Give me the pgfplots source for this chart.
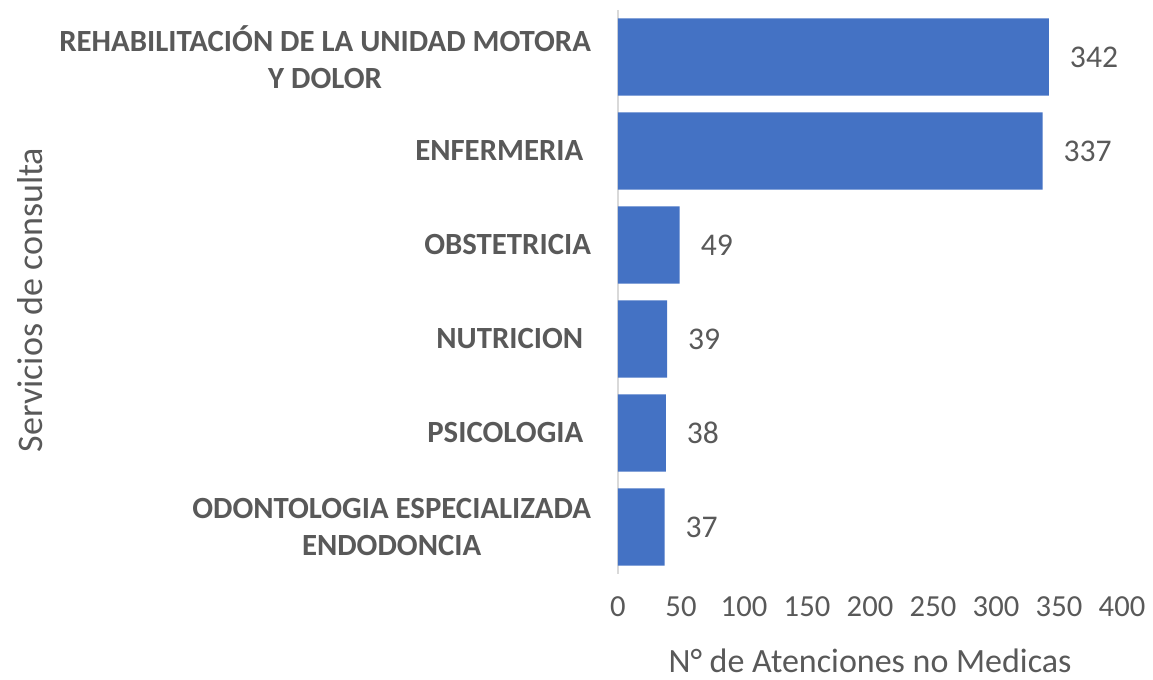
\documentclass[border=0pt]{standalone}
\usepackage{pgfplots}
\pgfplotsset{compat=1.18}
\usepackage{fontspec}
\setmainfont{Carlito}
\usetikzlibrary{calc}
\definecolor{barblue}{HTML}{4472C4}
\definecolor{txtgray}{HTML}{595959}
\definecolor{axgray}{HTML}{D9D9D9}
\begin{document}
\begin{tikzpicture}
\begin{axis}[
  name=ax,
  scale only axis,
  width=252pt, height=282pt,
  xbar, bar width=0.82,
  xmin=0, xmax=400,
  ymin=-0.5, ymax=5.5,
  xtick={0,50,...,400},
  ytick={0,1,2,3,4,5},
  yticklabels={{ODONTOLOGIA ESPECIALIZADA\\ENDODONCIA},
               {PSICOLOGIA\hspace*{0.25em}},
               {NUTRICION\hspace*{0.25em}},
               {OBSTETRICIA},
               {ENFERMERIA\hspace*{0.25em}},
               {REHABILITACIÓN DE LA UNIDAD MOTORA\\Y DOLOR}},
  axis lines=left,
  x axis line style={draw=none},
  y axis line style={draw=axgray, line width=1.2pt, -},
  major tick length=0pt,
  /pgf/number format/assume math mode=true,
  xticklabel style={font=\fontsize{15.3}{19}\selectfont, text=txtgray, yshift=-8pt},
  yticklabel style={font=\bfseries\fontsize{15.4}{18.5}\selectfont, text=txtgray, align=center, xshift=-10pt},
  xlabel={N° de Atenciones no Medicas},
  xlabel style={font=\fontsize{17}{20}\selectfont, text=txtgray, at={(axis description cs:0.5,0)}, anchor=center, yshift=-43.5pt},
  nodes near coords,
  nodes near coords style={font=\fontsize{15.8}{19}\selectfont, text=txtgray, anchor=west, xshift=7pt},
  clip=false,
]
\addplot[fill=barblue, draw=none] coordinates {
  (37,0) (38,1) (39,2) (49,3) (337,4) (342,5)
};
\end{axis}
\node[rotate=90, font=\fontsize{18}{21}\selectfont, text=txtgray, anchor=center] at ($(ax.west)+(-294pt,-4pt)$) {Servicios de consulta};
\useasboundingbox ($(ax.south west)+(-309pt,-51pt)$) rectangle ($(ax.north east)+(15.5pt,5pt)$);
\end{tikzpicture}
\end{document}
